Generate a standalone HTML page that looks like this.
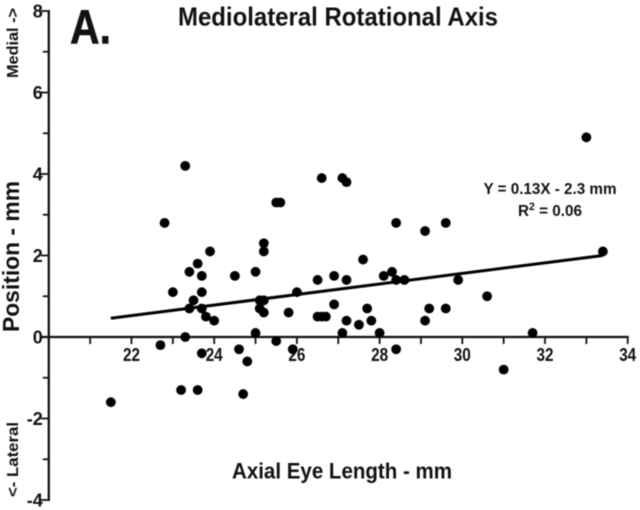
<!DOCTYPE html>
<html>
<head>
<meta charset="utf-8">
<style>
html,body{margin:0;padding:0;background:#fff;width:640px;height:510px;overflow:hidden}
svg{display:block;font-family:"Liberation Sans",sans-serif;font-weight:bold;fill:#111}
</style>
</head>
<body>
<svg id="chart" width="640" height="510" viewBox="0 0 640 510" xmlns="http://www.w3.org/2000/svg">
<g id="root" style="filter:blur(0.45px)">
<text x="70" y="43.5" font-size="48" textLength="41" lengthAdjust="spacingAndGlyphs" stroke="#111" stroke-width="0.6">A.</text>
<text x="178" y="25.5" font-size="26" textLength="320" lengthAdjust="spacingAndGlyphs">Mediolateral Rotational Axis</text>
<text x="232" y="478.5" font-size="22" textLength="220" lengthAdjust="spacingAndGlyphs">Axial Eye Length - mm</text>
<text transform="translate(19,332) rotate(-90)" font-size="23" textLength="151" lengthAdjust="spacingAndGlyphs">Position - mm</text>
<text transform="translate(18,78) rotate(-90)" font-size="15.5" textLength="70" lengthAdjust="spacingAndGlyphs">Medial -&gt;</text>
<text transform="translate(18,497) rotate(-90)" font-size="15.5" textLength="75" lengthAdjust="spacingAndGlyphs">&lt;- Lateral</text>
<text x="550" y="194" font-size="16" text-anchor="middle" textLength="133" lengthAdjust="spacingAndGlyphs">Y = 0.13X - 2.3 mm</text>
<text x="550" y="216" font-size="16" text-anchor="middle" textLength="64" lengthAdjust="spacingAndGlyphs">R<tspan font-size="11" dy="-6">2</tspan><tspan dy="6"> = 0.06</tspan></text>
</g>
</svg>
<script>
const xTickValues = [20, 21, 22, 23, 24, 25, 26, 27, 28, 29, 30, 31, 32, 33, 34];
const xTickLabels = ["", "", "22", "", "24", "", "26", "", "28", "", "30", "", "32", "", "34"];
const yTickValues = [-4, -3, -2, -1, 0, 1, 2, 3, 4, 5, 6, 7, 8];
const yTickLabels = ["-4", "", "-2", "", "0", "", "2", "", "4", "", "6", "", "8"];
const eyeLength = [21.5,22.7,22.8,23.0,23.2,23.3,23.3,23.4,23.4,23.5,23.6,23.6,23.7,23.7,23.7,23.7,23.8,23.9,24.0,24.5,24.6,24.7,24.8,25.0,25.0,25.1,25.1,25.2,25.2,25.2,25.2,25.5,25.6,25.5,25.8,25.9,26.0,26.5,26.5,26.6,26.7,26.6,26.9,26.9,27.1,27.2,27.2,27.1,27.2,27.5,27.6,27.7,27.8,28.0,28.1,28.3,28.4,28.6,28.4,28.4,29.1,29.1,29.2,29.6,29.6,29.9,30.6,31.0,31.7,33.0,33.4];
const position = [-1.6,-0.2,2.8,1.1,-1.3,0,4.2,1.6,0.7,0.9,-1.3,1.8,1.5,1.1,0.7,-0.4,0.5,2.1,0.4,1.5,-0.3,-1.4,-0.6,1.6,0.1,0.9,0.7,0.9,0.6,2.3,2.1,3.3,3.3,-0.1,0.6,-0.3,1.1,1.4,0.5,0.5,0.5,3.9,1.5,0.8,3.9,3.8,1.4,0.1,0.4,0.3,1.9,0.7,0.4,0.1,1.5,1.6,1.4,1.4,2.8,-0.3,2.6,0.4,0.7,2.8,0.7,1.4,1.0,-0.8,0.1,4.9,2.1];
const fitX = [21.5, 33.4];
const fitY = [0.46, 2.0];

const NS = "http://www.w3.org/2000/svg";
const root = document.getElementById("root");
const sx = v => 131.5 + (v - 22) * 41.35;
const sy = v => 337 - v * 40.75;

function make(tag, attrs, text) {
  const el = document.createElementNS(NS, tag);
  for (const k in attrs) el.setAttribute(k, attrs[k]);
  if (text !== undefined) el.textContent = text;
  root.appendChild(el);
  return el;
}

const yAxis = make("line", {x1: sx(20), x2: sx(20), y1: sy(8) - 1, y2: sy(-4) + 1, stroke: "#111", "stroke-width": 2.3});



const xAxis = make("line", {x1: sx(20) - 8, x2: sx(34) + 1, y1: sy(0), y2: sy(0), stroke: "#111", "stroke-width": 2.3});



xTickValues.forEach((v, i) => {
  if (i === 0) return;
  const major = xTickLabels[i] !== "";
  const t = make("line", {x1: sx(v), x2: sx(v), y1: sy(0), y2: sy(0) + 7, stroke: "#111", "stroke-width": 1.8});
  
  
  if (major) {
    const l = make("text", {x: sx(v), y: sy(0) + 24, "font-size": 18, "text-anchor": "middle", textLength: 17, lengthAdjust: "spacingAndGlyphs"}, xTickLabels[i]);
    
    
  }
});

yTickValues.forEach((v, i) => {
  const major = yTickLabels[i] !== "";
  const t = make("line", {x1: sx(20) - (major ? 8 : 6), x2: sx(20), y1: sy(v), y2: sy(v), stroke: "#111", "stroke-width": 1.8});
  
  
  if (major) {
    const l = make("text", {x: sx(20) - 6, y: sy(v) + 6.5, "font-size": 18, "text-anchor": "end"}, yTickLabels[i]);
    
    
  }
});

const fit = make("line", {x1: sx(fitX[0]), y1: sy(fitY[0]), x2: sx(fitX[1]), y2: sy(fitY[1]), stroke: "#000", "stroke-width": 3});



eyeLength.forEach((v, i) => {
  const c = make("circle", {cx: sx(v), cy: sy(position[i]), r: 4.9, fill: "#000"});
  
  
});
</script>
</body>
</html>
